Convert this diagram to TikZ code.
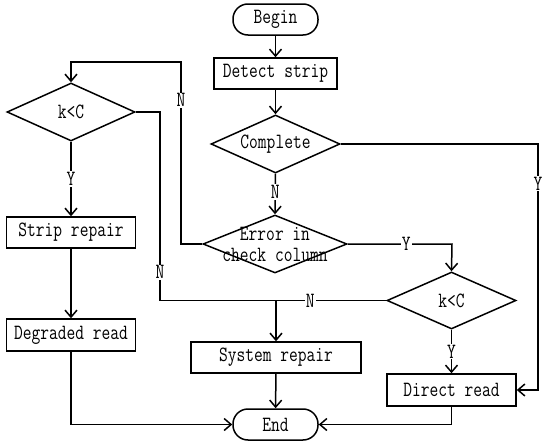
\documentclass[tikz,border=0pt]{standalone}
\usetikzlibrary{shapes.geometric,arrows.meta}
\newcommand\tx[1]{\scalebox{1}[1.28]{#1}}
\begin{document}
\begin{tikzpicture}[x=1pt,y=-1pt,
  every node/.style={font=\ttfamily\fontsize{17}{21}\selectfont},
  lw/.style={line width=1.5pt},
  box/.style={draw,lw,rectangle,inner sep=0pt,minimum height=31pt},
  term/.style={draw,lw,rectangle,rounded corners=15pt,inner sep=0pt,minimum width=85pt,minimum height=31pt},
  dia/.style={draw,lw,diamond,inner sep=0pt},
  lab/.style={fill=white,inner sep=1pt},
  conn/.style={lw},
  arr/.style={lw,-{Straight Barb[length=7pt,width=12pt,line width=1.5pt]}}
]
\path[use as bounding box] (0,0) rectangle (550,447);
\node[term] (begin) at (275.5,19.5) {\tx{Begin}};
\node[box,minimum width=123pt] (detect) at (275.5,73.5) {\tx{Detect strip}};
\node[dia,minimum width=129pt,minimum height=58pt,label=center:\tx{Complete}] (complete) at (275.5,144) {};
\node[dia,minimum width=128pt,minimum height=58pt,label=center:\tx{k<C}] (kcl) at (71,112) {};
\node[box,minimum width=129pt] (strip) at (71,232.5) {\tx{Strip repair}};
\node[box,minimum width=129pt,minimum height=32pt] (degraded) at (71,335) {\tx{Degraded read}};
\node[dia,minimum width=144pt,minimum height=58pt,label={[align=center]center:\tx{Error in}\\\tx{check column}}] (error) at (275,244) {};
\node[dia,minimum width=129pt,minimum height=57pt,label=center:\tx{k<C}] (kcr) at (451.5,300.5) {};
\node[box,minimum width=170pt] (sysrep) at (276,357.5) {\tx{System repair}};
\node[box,minimum width=129pt,minimum height=32pt] (direct) at (451.5,390) {\tx{Direct read}};
\node[term] (end) at (275.5,424.5) {\tx{End}};
\coordinate (j) at (276,300.5);

\draw[arr] (begin) -- (detect);
\draw[arr] (detect) -- (complete);
\draw[arr] (complete.south) -- node[lab,pos=0.45] {\tx{N}} (error.north);
\draw[arr] (complete.east) -- (538,144) -- node[lab,pos=0.16] {\tx{Y}} (538,390) -- (direct.east);
\draw[arr] (error.west) -- (181,244) -- node[lab,pos=0.79] {\tx{N}} (181,62) -- (71,62) -- (kcl.north);
\draw[arr] (error.east) -- node[lab,pos=0.56] {\tx{Y}} (452,244) -- (kcr.north);
\draw[arr] (kcl.south) -- node[lab] {\tx{Y}} (strip.north);
\draw[arr] (strip) -- (degraded);
\draw[conn] (kcl.east) -- (160,112) -- node[lab,pos=0.85] {\tx{N}} (160,300.5) -- (j);
\draw[conn] (kcr.west) -- node[lab,pos=0.69] {\tx{N}} (j);
\draw[arr] (j) -- (sysrep.north);
\draw[arr] (kcr.south) -- node[lab] {\tx{Y}} (direct.north);
\draw[arr] (sysrep) -- (end);
\draw[arr] (direct.south) |- (end.east);
\draw[arr] (degraded.south) |- (end.west);
\end{tikzpicture}
\end{document}
